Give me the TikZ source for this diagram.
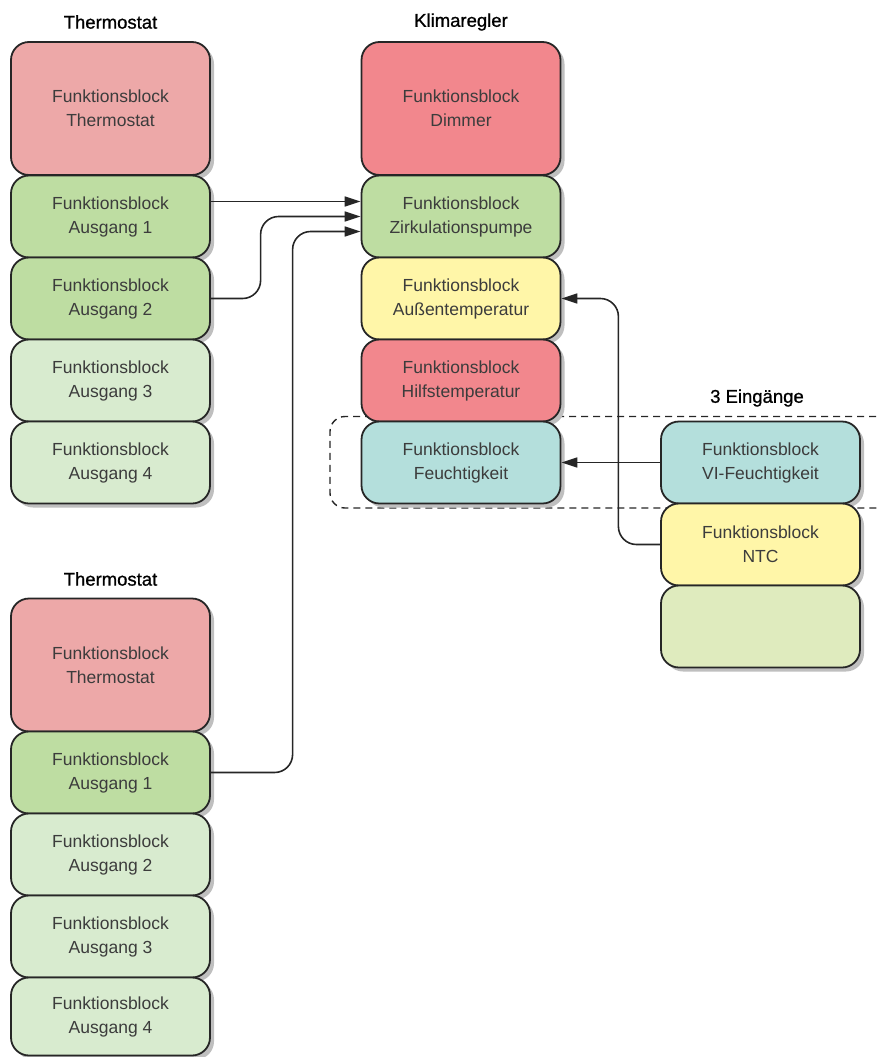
\documentclass[tikz,border=0pt]{standalone}
\usepackage{fontspec}
\setmainfont{Liberation Sans}
\newfontfamily\hdrfont{Liberation Sans}[BoldFont={Liberation Sans},BoldFeatures={FakeBold=0.9}]
\usetikzlibrary{shadows,arrows.meta,calc}
\definecolor{cThermo}{HTML}{EDA8A8}
\definecolor{cRed}{HTML}{F2878D}
\definecolor{cGreen}{HTML}{BEDDA2}
\definecolor{cLight}{HTML}{D8EBCF}
\definecolor{cYellow}{HTML}{FFF6A8}
\definecolor{cTeal}{HTML}{B4DFDC}
\definecolor{cPale}{HTML}{DFEBBE}
\definecolor{cText}{HTML}{3C3C3C}
\definecolor{cLine}{HTML}{262626}
\tikzset{
  fb/.style={draw=cLine, line width=1.8pt, rounded corners=18pt, minimum width=199pt,
    minimum height=82pt, inner sep=0pt, align=center, text=cText,
    font=\fontsize{17.5}{24}\selectfont,
    drop shadow={shadow xshift=4pt, shadow yshift=-4pt, fill=black!25, opacity=1}},
  tall/.style={minimum height=133pt},
  hdr/.style={font=\hdrfont\bfseries\fontsize{18.5}{20}\selectfont, text=black, inner sep=0pt},
  conn/.style={draw=cLine, line width=1.6pt, rounded corners=18pt},
  arr/.style={-{Triangle[length=16pt,width=10pt]}},
}
\begin{document}
\begin{tikzpicture}[x=1pt,y=-1pt]
\useasboundingbox (0,0) rectangle (879,1057);
% dashed group
\draw[line width=1.4pt, cLine, dash pattern=on 7pt off 5pt, rounded corners=15pt]
  (900,416.5) -- (330,416.5) -- (330,508) -- (900,508);
% headers
\node[hdr] (h1) at (110.5,22) {Thermostat};
\node[hdr] (h2) at (461,22) {Klimaregler};
\node[hdr] (h3) at (757,398) {3 Eingänge};
\node[hdr] (h4) at (110.5,579) {Thermostat};
% left top
\node[fb,tall,fill=cThermo] (t1) at (110.5,108.5) {Funktionsblock\\Thermostat};
\node[fb,fill=cGreen] (a1) at (110.5,216.5) {Funktionsblock\\Ausgang 1};
\node[fb,fill=cGreen] (a2) at (110.5,298.5) {Funktionsblock\\Ausgang 2};
\node[fb,fill=cLight] (a3) at (110.5,380.5) {Funktionsblock\\Ausgang 3};
\node[fb,fill=cLight] (a4) at (110.5,462.5) {Funktionsblock\\Ausgang 4};
% middle
\node[fb,tall,fill=cRed] (dim) at (461,108.5) {Funktionsblock\\Dimmer};
\node[fb,fill=cGreen] (zirk) at (461,216.5) {Funktionsblock\\Zirkulationspumpe};
\node[fb,fill=cYellow] (aus) at (461,298.5) {Funktionsblock\\Außentemperatur};
\node[fb,fill=cRed] (hilf) at (461,380.5) {Funktionsblock\\Hilfstemperatur};
\node[fb,fill=cTeal] (feu) at (461,462.5) {Funktionsblock\\Feuchtigkeit};
% right
\node[fb,fill=cTeal] (vi) at (760.5,462.5) {Funktionsblock\\VI-Feuchtigkeit};
\node[fb,fill=cYellow] (ntc) at (760.5,544.5) {Funktionsblock\\NTC};
\node[fb,fill=cPale] (emp) at (760.5,626.5) {};
% left bottom
\node[fb,tall,fill=cThermo] (t2) at (110.5,665) {Funktionsblock\\Thermostat};
\node[fb,fill=cGreen] (b1) at (110.5,772.5) {Funktionsblock\\Ausgang 1};
\node[fb,fill=cLight] (b2) at (110.5,854.5) {Funktionsblock\\Ausgang 2};
\node[fb,fill=cLight] (b3) at (110.5,936.5) {Funktionsblock\\Ausgang 3};
\node[fb,fill=cLight,minimum height=78pt] (b4) at (110.5,1016.5) {Funktionsblock\\Ausgang 4};
% connectors
\draw[conn,arr] ([yshift=15pt]a1.east) -- ([yshift=15pt]zirk.west);
\draw[conn,arr] (a2.east) -| ([xshift=-100pt]zirk.west) -- (zirk.west);
\draw[conn,arr] (b1.east) -| ([xshift=-68pt,yshift=-15pt]zirk.west) -- ([yshift=-15pt]zirk.west);
\draw[conn,arr] (ntc.west) -| ([xshift=57pt]aus.east) -- (aus.east);
\draw[conn,arr] (vi.west) -- (feu.east);
\end{tikzpicture}
\end{document}
